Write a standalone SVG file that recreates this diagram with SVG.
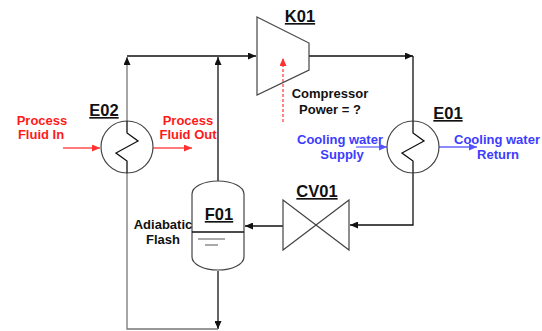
<svg xmlns="http://www.w3.org/2000/svg" width="542" height="331" viewBox="0 0 542 331">
<style>
.ln{fill:none;stroke:#111;stroke-width:1.3}
.gl{fill:none;stroke:#777;stroke-width:1.3}
.eq{fill:#fff;stroke:#444;stroke-width:1.2}
.t{font-family:"Liberation Sans",Arial,sans-serif;font-weight:bold;font-size:13px;text-anchor:middle}
.tag{font-family:"Liberation Sans",Arial,sans-serif;font-weight:bold;font-size:16.5px;text-anchor:middle;text-decoration:underline;fill:#111}
.red{fill:#ff1a1a}
.blue{fill:#3c3cff}
.blk{fill:#111}
</style>
<defs>
<marker id="ar" markerUnits="userSpaceOnUse" markerWidth="8" markerHeight="7" refX="8" refY="3.5" orient="auto"><path d="M0,0 L8,3.5 L0,7 z" fill="#111"/></marker>
<marker id="arr" markerUnits="userSpaceOnUse" markerWidth="8" markerHeight="7" refX="8" refY="3.5" orient="auto"><path d="M0,0 L8,3.5 L0,7 z" fill="#ff3030"/></marker>
<marker id="arb" markerUnits="userSpaceOnUse" markerWidth="8" markerHeight="7" refX="8" refY="3.5" orient="auto"><path d="M0,0 L8,3.5 L0,7 z" fill="#5555ff"/></marker>
</defs>
<g id="connectors">
<path class="ln" d="M218,271 V329" marker-end="url(#ar)"/>
<path class="gl" d="M218,329 H127 V57" marker-end="url(#ar)"/>
<path class="ln" d="M127,56 H256" marker-end="url(#ar)"/>
<path class="ln" d="M218,181 V57" marker-end="url(#ar)"/>
<path class="ln" d="M309,56 H413" marker-end="url(#ar)"/>
<path class="ln" d="M413,56 V225 H350" marker-end="url(#ar)"/>
<path class="ln" d="M283,226 H245" marker-end="url(#ar)"/>
<path d="M63,148 H100" fill="none" stroke="#ff5050" stroke-width="1.3" marker-end="url(#arr)"/>
<path d="M153,148 H192" fill="none" stroke="#ff5050" stroke-width="1.3" marker-end="url(#arr)"/>
<path d="M356,147 H387" fill="none" stroke="#6666ff" stroke-width="1.3" marker-end="url(#arb)"/>
<path d="M439,147 H477" fill="none" stroke="#6666ff" stroke-width="1.3" marker-end="url(#arb)"/>
</g>
<g id="E02">
<circle class="eq" cx="127" cy="147" r="26"/>
<path class="ln" d="M127,121 V133 L138,141 L116,153 L127,161 V173"/>
<text class="tag" x="104" y="116">E02</text>
</g>
<g id="E01">
<circle class="eq" cx="413" cy="147" r="26"/>
<path class="ln" d="M413,121 V133 L424,141 L402,153 L413,161 V173"/>
<text class="tag" x="448" y="119">E01</text>
</g>
<g id="K01">
<polygon class="eq" points="257,17 309,43 309,70 257,95"/>
<text class="tag" x="300" y="22">K01</text>
</g>
<g id="power">
<path d="M283,122 V58" fill="none" stroke="#ff2020" stroke-width="1.1" stroke-dasharray="3,2" marker-end="url(#arr)"/>
</g>
<g id="CV01">
<path d="M283,200 L349,250 L349,200 L283,250 Z" fill="#fff" stroke="#444" stroke-width="1.2"/>
<text class="tag" x="317" y="197">CV01</text>
</g>
<g id="F01">
<path class="eq" d="M192,194 A26,13 0 0 1 244,194 V257 A26,13 0 0 1 192,257 Z"/>
<path class="ln" d="M192,232 H244" stroke="#444"/>
<path d="M198,239 H225 M205,245 H218" fill="none" stroke="#555" stroke-width="1"/>
<text class="tag" x="219" y="220">F01</text>
</g>
<g id="labels">
<text class="t red" x="42" y="125">Process</text>
<text class="t red" x="41" y="139">Fluid In</text>
<text class="t red" x="188" y="125">Process</text>
<text class="t red" x="188" y="139">Fluid Out</text>
<text class="t blue" x="340" y="144">Cooling water</text>
<text class="t blue" x="342" y="159">Supply</text>
<text class="t blue" x="497" y="144">Cooling water</text>
<text class="t blue" x="498" y="159">Return</text>
<text class="t blk" x="330" y="98">Compressor</text>
<text class="t blk" x="330" y="114">Power = ?</text>
<text class="t blk" x="163" y="229">Adiabatic</text>
<text class="t blk" x="163" y="244">Flash</text>
</g>
</svg>
